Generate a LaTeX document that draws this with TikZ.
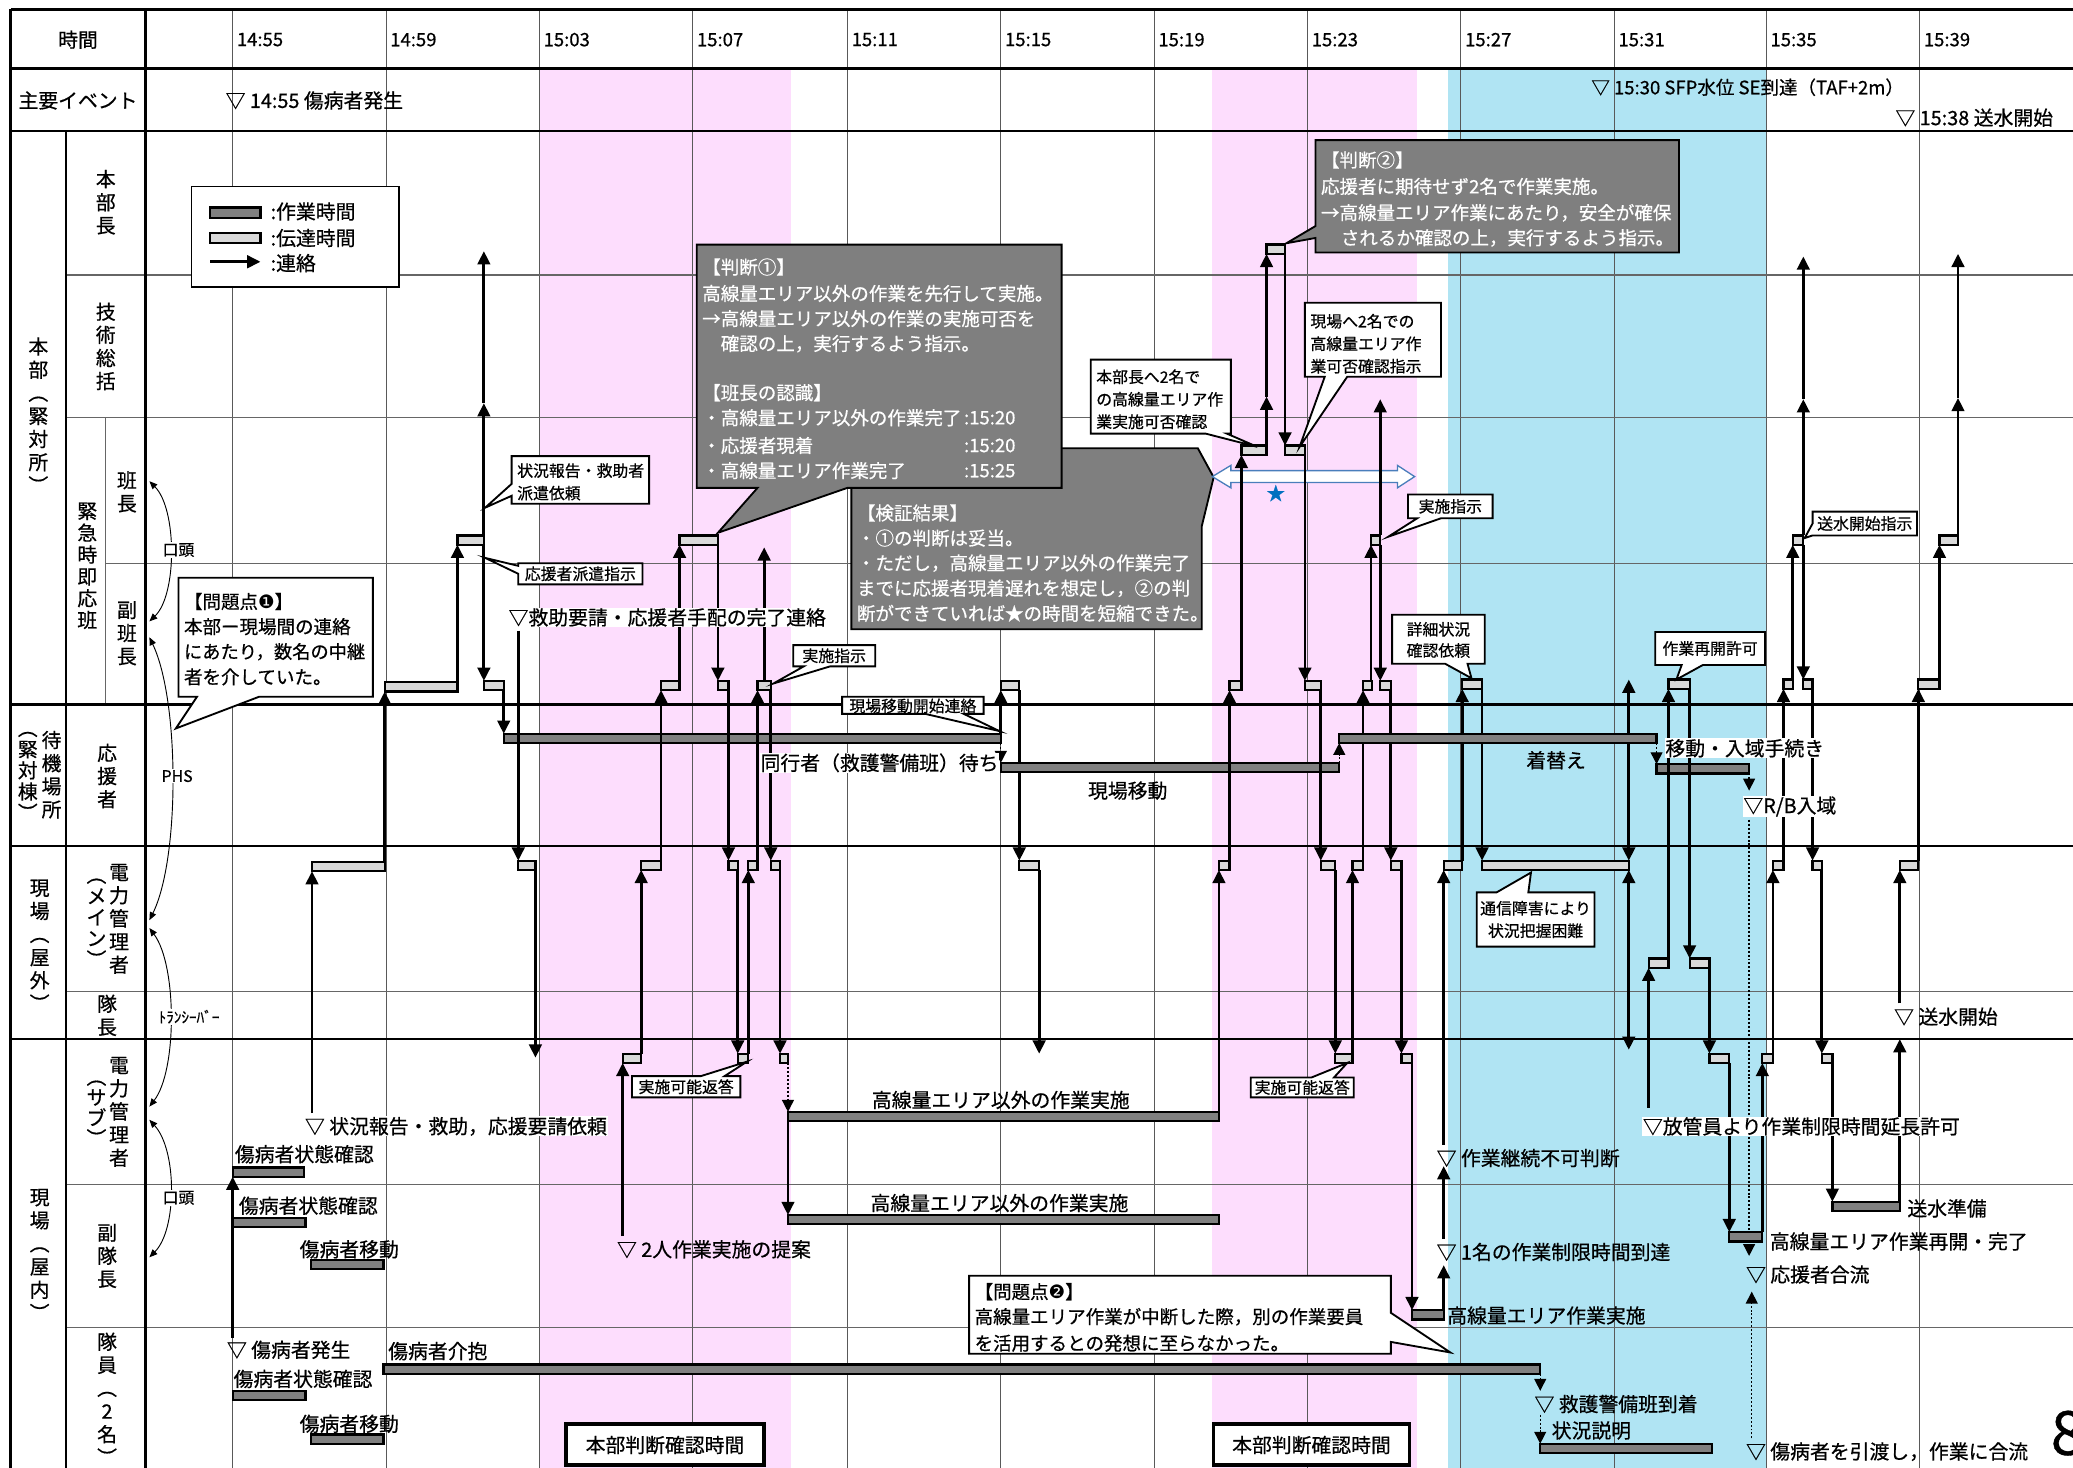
\documentclass[tikz,border=0pt]{standalone}
\usepackage{fontspec}
\setmainfont{Noto Sans CJK JP}[FakeBold=0.6]
\newfontfamily\dvs{DejaVu Sans}
\usetikzlibrary{arrows.meta}
\definecolor{pinkbg}{RGB}{253,221,253}
\definecolor{bluebg}{RGB}{176,228,243}
\definecolor{barg}{RGB}{128,128,128}
\definecolor{lbarg}{RGB}{217,217,217}
\definecolor{callg}{RGB}{127,127,127}
\definecolor{arrblue}{RGB}{74,126,187}
\definecolor{starblue}{RGB}{0,112,192}
\newcommand\zLB[3]{\draw[lbar] (#1,#3) rectangle (#2,#3+7);}
\newcommand\zDB[3]{\draw[dbar] (#1,#3) rectangle (#2,#3+7);}
\newcommand\zAR[3]{\draw[ar] (#1,#2) -- (#1,#3);}
\newcommand\zDA[3]{\draw[dar] (#1,#2) -- (#1,#3);}
\newcommand\zDT[3]{\draw[dotar] (#1,#2) -- (#1,#3);}
\begin{document}
\begin{tikzpicture}[x=1pt,y=-1pt,
  ar/.style={line width=2.1pt,-{Triangle[length=10pt,width=9.5pt]}},
  dar/.style={line width=2.1pt,{Triangle[length=10pt,width=9.5pt]}-{Triangle[length=10pt,width=9.5pt]}},
  dotar/.style={line width=1pt,dash pattern=on 1.5pt off 1.5pt,-{Triangle[length=9pt,width=9pt]}},
  dotln/.style={line width=1pt,dash pattern=on 1.5pt off 1.5pt},
  thinar/.style={line width=0.7pt,{Triangle[length=6pt,width=5pt]}-{Triangle[length=6pt,width=5pt]}},
  dbar/.style={fill=barg,draw=black,line width=1.7pt},
  lbar/.style={fill=lbarg,draw=black,line width=1.7pt},
  gridl/.style={line width=0.7pt,draw=black!65},
  thinrow/.style={line width=0.9pt,draw=black!60},
  thickrow/.style={line width=2pt,draw=black},
  callw/.style={fill=white,draw=black,line width=1.4pt},
  callgr/.style={fill=callg,draw=black,line width=1.4pt},
  mt/.style={font=\fontsize{15}{17}\selectfont,anchor=west,inner sep=0.5pt},
  mtw/.style={mt,fill=white},
  mtc/.style={font=\fontsize{15}{17}\selectfont,inner sep=0.5pt},
  sm/.style={font=\fontsize{12}{14}\selectfont,inner sep=0pt},
  gw/.style={font=\fontsize{14}{16}\selectfont,anchor=west,inner sep=0pt,text=white},
  bk/.style={font=\fontsize{14}{16}\selectfont,anchor=west,inner sep=0pt},
  vl/.style={font=\fontsize{15}{17.5}\selectfont,align=center,inner sep=0pt},
  hd/.style={font=\fontsize{14}{16}\selectfont,anchor=west,inner sep=0pt}]
\useasboundingbox (0,0) rectangle (1568,1110);
\fill[white] (0,0) rectangle (1568,1110);
\clip (0,0) rectangle (1568,1110);
% shading
\fill[pinkbg] (408,52) rectangle (598,1110);
\fill[pinkbg] (917,52) rectangle (1072,1110);
\fill[bluebg] (1095,52) rectangle (1336,1110);
% grid
\foreach \x in {176,292,408,524,641,757,873,989,1105,1221,1336,1452} \draw[gridl] (\x,7) -- (\x,1110);
\foreach \y in {208,316,750,896,1004} \draw[thinrow] (50,\y) -- (1568,\y);
\draw[thinrow] (80,426) -- (1568,426);
\draw[thinrow] (80,316) -- (80,533);
\foreach \y in {7,52,99,533,640,786} \draw[thickrow] (8,\y) -- (1568,\y);
\draw[thickrow] (8,7) -- (8,1110);
\draw[thickrow] (110,7) -- (110,1110);
\draw[thickrow] (50,99) -- (50,1110);
% header
\node[mtc] (hjikan) at (59,30) {時間};
\node[mtc] (hevent) at (59,76) {主要イベント};
\foreach \x/\t in {176/14:55,292/14:59,408/15:03,524/15:07,641/15:11,757/15:15,873/15:19,989/15:23,1105/15:27,1221/15:31,1336/15:35,1452/15:39}
  \node[hd] at (\x+3,30) {\t};
\node[mt] (ev1) at (170,76) {▽ 14:55 傷病者発生};
\node[mt,font=\fontsize{14}{16}\selectfont] (ev2) at (1203,66) {▽ 15:30 SFP水位 SE到達（TAF+2m）};
\node[mt] (ev3) at (1433,89) {▽ 15:38 送水開始};
% left labels
\node[vl] (L1) at (29,314) {本\\部\\︵\\緊\\対\\所\\︶};
\node[vl] (L2) at (80,153) {本\\部\\長};
\node[vl] (L3) at (80,262) {技\\術\\総\\括};
\node[vl,font=\fontsize{15}{16.5}\selectfont] (L4) at (66,428) {緊\\急\\時\\即\\応\\班};
\node[vl] (L5) at (96,372) {班\\長};
\node[vl] (L6) at (96,479) {副\\班\\長};
\node[vl] (L7) at (39,586) {待\\機\\場\\所};
\node[vl,font=\fontsize{15}{16}\selectfont] (L8) at (21,587) {︵\\緊\\対\\棟\\︶};
\node[vl] (L9) at (81,587) {応\\援\\者};
\node[vl] (L10) at (30,715) {現\\場\\︵\\屋\\外\\︶};
\node[vl] (L11) at (90,695) {電\\力\\管\\理\\者};
\node[vl,font=\fontsize{15}{16}\selectfont] (L12) at (73,698) {︵\\メ\\イ\\ン\\︶};
\node[vl] (L13) at (81,768) {隊\\長};
\node[vl] (L14) at (90,841) {電\\力\\管\\理\\者};
\node[vl,font=\fontsize{15}{15.5}\selectfont] (L15) at (73,842) {︵\\サ\\ブ\\︶};
\node[vl] (L16) at (81,950) {副\\隊\\長};
\node[vl] (L17) at (30,949) {現\\場\\︵\\屋\\内\\︶};
\node[vl] (L18) at (81,1058) {隊\\員\\︵\\2\\名\\︶};
% left comm curves
\draw[thinar] (113,364) .. controls (134,385) and (134,450) .. (113,470);
\draw[thinar] (113,482) .. controls (136,530) and (136,650) .. (113,696);
\draw[thinar] (113,702) .. controls (134,730) and (134,810) .. (113,837);
\draw[thinar] (113,847) .. controls (134,870) and (134,930) .. (113,951);
\node[sm,fill=white,inner sep=1pt] (c1) at (135,416) {口頭};
\node[sm,fill=white,inner sep=1pt] (c2) at (134,587) {PHS};
\node[sm,fill=white,inner sep=1pt,font=\fontsize{11.5}{13}\selectfont] (c3) at (143,769) {ﾄﾗﾝｼｰﾊﾞｰ};
\node[sm,fill=white,inner sep=1pt] (c4) at (135,906) {口頭};
% legend
\draw[line width=1.2pt,fill=white] (145,141) rectangle (302,217);
\draw[dbar] (159,157) rectangle (197,165);
\draw[lbar] (159,176) rectangle (197,184);
\draw[ar] (159,198) -- (197,198);
\node[mt] (lg1) at (204,160) {:作業時間};
\node[mt] (lg2) at (204,180) {:伝達時間};
\node[mt] (lg3) at (204,199) {:連絡};
% gray callouts
\draw[callgr] (644,339) -- (906,339) -- (918,361) -- (909,398) -- (909,476) -- (644,476) -- cycle;
\draw[callgr] (527,185) -- (803,185) -- (803,369) -- (641,369) -- (543,403) -- (573,369) -- (527,369) -- cycle;
\draw[callgr] (995,106) -- (1270,106) -- (1270,191) -- (995,191) -- (995,180) -- (973,184) -- (995,171) -- cycle;
\node[gw] at (531,202) {【判断①】};
\node[gw] at (531,222) {高線量エリア以外の作業を先行して実施。};
\node[gw] at (531,241) {→高線量エリア以外の作業の実施可否を};
\node[gw] at (545,260) {確認の上，実行するよう指示。};
\node[gw] at (531,297) {【班長の認識】};
\node[gw] at (531,316) {・高線量エリア以外の作業完了};
\node[gw] at (531,337) {・応援者現着};
\node[gw] at (531,356) {・高線量エリア作業完了};
\node[gw] at (729,316) {:15:20};
\node[gw] at (729,337) {:15:20};
\node[gw] at (729,356) {:15:25};
\node[gw] at (648,388) {【検証結果】};
\node[gw] at (648,407) {・①の判断は妥当。};
\node[gw] at (648,426) {・ただし，高線量エリア以外の作業完了};
\node[gw] at (648,445) {までに応援者現着遅れを想定し，②の判};
\node[gw] at (648,464) {断ができていれば★の時間を短縮できた。};
\node[gw] at (999,121) {【判断②】};
\node[gw] at (999,141) {応援者に期待せず2名で作業実施。};
\node[gw] at (999,161) {→高線量エリア作業にあたり，安全が確保};
\node[gw] at (1014,180) {されるか確認の上，実行するよう指示。};
% blue double arrow and star
\draw[arrblue,fill=white,line width=1pt] (917,360.5) -- (931,352) -- (931,356) -- (1057,356) -- (1057,352) -- (1070,360.5) -- (1057,369) -- (1057,365) -- (931,365) -- (931,369) -- cycle;
\node[text=starblue,font=\fontsize{14}{16}\selectfont,inner sep=0pt] (star) at (965,373) {★};
% initial phase
\zDB{176}{230}{883}
\zDB{176}{231}{921}
\zDB{235}{290}{953}
\zDB{176}{231}{1052}
\zDB{235}{290}{1085}
\zDB{290}{1165}{1032}
\zAR{176}{1012}{890}
\zAR{236}{842}{659}
\zLB{236}{291}{652}
\zAR{291}{652}{523}
\zLB{291}{346}{516}
\zAR{346}{516}{412}
\zLB{346}{366}{405}
\zAR{366}{405}{305}
\zAR{366}{305}{190}
\zAR{366}{412}{515}
\zLB{366}{381}{515}
\zAR{381}{522}{555}
\zDB{381}{757}{555}
\zAR{392}{477}{651}
\zLB{392}{405}{651}
\zAR{405}{658}{800}
% pink 1
\zAR{471}{935}{804}
\zLB{471}{485}{797}
\zAR{485}{797}{658}
\zLB{485}{500}{651}
\zAR{500}{651}{522}
\zLB{500}{514}{515}
\zAR{514}{515}{412}
\zLB{514}{543}{405}
\zAR{543}{412}{515}
\zLB{543}{551}{515}
\zAR{551}{522}{651}
\zLB{551}{558}{651}
\zAR{558}{658}{797}
\zLB{558}{566}{797}
\zAR{566}{797}{658}
\zLB{566}{573}{651}
\zAR{573}{651}{522}
\zLB{573}{583}{515}
\zAR{578}{515}{414}
\zAR{583}{522}{651}
\zLB{583}{590}{651}
\zAR{590}{658}{797}
\zLB{590}{596}{797}
\zDT{596}{804}{841}
\zDB{596}{922}{841}
\zAR{596}{848}{919}
\zDB{596}{922}{919}
\zAR{757}{555}{522}
\zLB{757}{771}{515}
\zAR{771}{522}{651}
\zLB{771}{786}{651}
\zAR{786}{658}{797}
\zDT{757}{562}{577}
\zDB{757}{1013}{577}
% pink 2
\zAR{922}{841}{658}
\zLB{922}{930}{651}
\zAR{930}{651}{522}
\zLB{930}{939}{515}
\zAR{939}{515}{344}
\zLB{939}{958}{337}
\zAR{958}{337}{300}
\zAR{958}{300}{192}
\zLB{958}{972}{185}
\zAR{972}{192}{337}
\zLB{972}{987}{337}
\zAR{987}{344}{515}
\zLB{987}{999}{515}
\zAR{999}{522}{651}
\zLB{999}{1010}{651}
\zAR{1010}{658}{797}
\zLB{1010}{1023}{797}
\zAR{1023}{797}{658}
\zLB{1023}{1031}{651}
\zAR{1031}{651}{522}
\zLB{1031}{1038}{515}
\zAR{1037}{515}{412}
\zLB{1037}{1044}{405}
\zAR{1044}{405}{302}
\zAR{1044}{412}{515}
\zLB{1044}{1052}{515}
\zAR{1052}{522}{651}
\zLB{1052}{1060}{651}
\zAR{1060}{658}{797}
\zLB{1060}{1068}{797}
\zAR{1068}{804}{991}
\zDB{1068}{1092}{991}
\zAR{1092}{991}{957}
\zAR{1092}{937}{882}
\zAR{1092}{866}{658}
\zLB{1092}{1106}{651}
\zAR{1106}{651}{521}
\zLB{1106}{1121}{514}
\zAR{1121}{521}{651}
\zLB{1121}{1232}{651}
\zDA{1232}{514}{651}
\zDA{1232}{658}{794}
\zDT{1013}{577}{562}
\zDB{1013}{1253}{555}
\zDT{1253}{562}{578}
\zDB{1253}{1323}{578}
\zDT{1323}{585}{598}
\draw[dotln] (1323,620) -- (1323,932);
\zDT{1323}{939}{950}
\zDT{1325}{1088}{977}
% blue
\zAR{1247}{838}{732}
\zLB{1247}{1262}{725}
\zAR{1262}{725}{521}
\zLB{1262}{1278}{514}
\zAR{1278}{521}{725}
\zLB{1278}{1293}{725}
\zAR{1293}{732}{797}
\zLB{1293}{1308}{797}
\zAR{1308}{804}{932}
\zDB{1308}{1333}{932}
\zAR{1333}{932}{804}
\zLB{1333}{1341}{797}
\zAR{1341}{797}{658}
\zLB{1341}{1349}{651}
\zAR{1349}{651}{521}
\zLB{1349}{1356}{514}
\zAR{1356}{514}{412}
\zLB{1356}{1364}{405}
\zAR{1364}{405}{302}
\zAR{1364}{302}{194}
\zAR{1364}{412}{514}
\zLB{1364}{1371}{514}
\zAR{1371}{521}{651}
\zLB{1371}{1378}{651}
\zAR{1378}{658}{797}
\zLB{1378}{1386}{797}
\zAR{1386}{804}{909}
\zDB{1386}{1437}{909}
\zAR{1437}{909}{786}
\zAR{1437}{759}{658}
\zLB{1437}{1451}{651}
\zAR{1451}{651}{521}
\zLB{1451}{1467}{514}
\zAR{1467}{514}{412}
\zLB{1467}{1481}{405}
\zAR{1481}{405}{301}
\zAR{1481}{301}{192}
% bottom right
\zDT{1165}{1039}{1052}
\zDT{1165}{1070}{1092}
\zDB{1165}{1295}{1092}
% white callouts
\draw[callw] (387,345) -- (491,345) -- (491,381) -- (387,381) -- (387,375) -- (367,384) -- (387,366) -- cycle;
\node[sm,anchor=west] at (391,356) {状況報告・救助者};
\node[sm,anchor=west] at (391,373) {派遣依頼};
\draw[callw] (392,426) -- (486,426) -- (486,442) -- (392,442) -- (392,434) -- (367,422) -- (392,428) -- cycle;
\node[sm] at (439,434) {応援者派遣指示};
\draw[callw] (600,488) -- (662,488) -- (662,504) -- (628,504) -- (585,517) -- (608,504) -- (600,504) -- cycle;
\node[sm] at (631,496) {実施指示};
\draw[callw] (637,527) -- (744,527) -- (744,540) -- (729,540) -- (756,553) -- (700,540) -- (637,540) -- cycle;
\node[sm] at (690.5,534) {現場移動開始連絡};
\draw[callw] (478,814) -- (530,814) -- (565,803) -- (548,814) -- (560,814) -- (560,830) -- (478,830) -- cycle;
\node[sm] at (519,822) {実施可能返答};
\draw[callw] (825,272) -- (931,272) -- (931,328) -- (928,328) -- (951,338) -- (912,328) -- (825,328) -- cycle;
\node[sm,anchor=west] at (829,285) {本部長へ2名で};
\node[sm,anchor=west] at (829,302) {の高線量エリア作};
\node[sm,anchor=west] at (829,319) {業実施可否確認};
\draw[callw] (987,229) -- (1090,229) -- (1090,285) -- (1019,285) -- (983,338) -- (1002,285) -- (987,285) -- cycle;
\node[sm,anchor=west] at (991,243) {現場へ2名での};
\node[sm,anchor=west] at (991,260) {高線量エリア作};
\node[sm,anchor=west] at (991,277) {業可否確認指示};
\draw[callw] (1065,374) -- (1129,374) -- (1129,392) -- (1090,392) -- (1050,406) -- (1072,392) -- (1065,392) -- cycle;
\node[sm] at (1097,383) {実施指示};
\draw[callw] (1053,465) -- (1123,465) -- (1123,502) -- (1110,502) -- (1113,513) -- (1093,502) -- (1053,502) -- cycle;
\node[sm] at (1088,476) {詳細状況};
\node[sm] at (1088,492) {確認依頼};
\draw[callw] (946,815) -- (992,815) -- (1019,804) -- (1009,815) -- (1024,815) -- (1024,830) -- (946,830) -- cycle;
\node[sm] at (985,822.5) {実施可能返答};
\draw[callw] (1117,675) -- (1132,675) -- (1158,660) -- (1156,675) -- (1206,675) -- (1206,716) -- (1117,716) -- cycle;
\node[sm] at (1161.5,687) {通信障害により};
\node[sm] at (1161.5,704) {状況把握困難};
\draw[callw] (1252,478) -- (1335,478) -- (1335,503) -- (1288,503) -- (1268,514) -- (1272,503) -- (1252,503) -- cycle;
\node[sm] at (1293.5,490.5) {作業再開許可};
\draw[callw] (1371,387) -- (1450,387) -- (1450,405) -- (1371,405) -- (1365,407) -- (1371,396) -- cycle;
\node[sm] at (1410.5,396) {送水開始指示};
% problem callouts
\draw[callw] (135,437) -- (282,437) -- (282,527) -- (196,527) -- (133,551) -- (149,527) -- (135,527) -- cycle;
\node[bk] at (139,455) {【問題点{\dvs ❶}】};
\node[bk] at (139,474) {本部ー現場間の連絡};
\node[bk,font=\fontsize{13.8}{16}\selectfont] at (139,493) {にあたり，数名の中継};
\node[bk] at (139,512) {者を介していた。};
\draw[callw] (733,965) -- (1052,965) -- (1052,993) -- (1097,1023) -- (1052,1015) -- (1052,1024) -- (733,1024) -- cycle;
\node[bk] at (737,977) {【問題点{\dvs ❷}】};
\node[bk] at (737,996) {高線量エリア作業が中断した際，別の作業要員};
\node[bk] at (737,1016) {を活用するとの発想に至らなかった。};
% bottom boxes
\draw[line width=2.6pt,fill=white] (428,1077) rectangle (578,1108);
\node[mtc] (bx1) at (503,1093) {本部判断確認時間};
\draw[line width=2.6pt,fill=white] (918,1077) rectangle (1066,1108);
\node[mtc] (bx2) at (992,1093) {本部判断確認時間};
% main labels
\node[mtw] at (230,852) {▽ 状況報告・救助，応援要請依頼};
\node[mt] at (177,873) {傷病者状態確認};
\node[mt] at (180,912) {傷病者状態確認};
\node[mt] at (226,945) {傷病者移動};
\node[mt] at (171,1021) {▽ 傷病者発生};
\node[mt] at (176,1043) {傷病者状態確認};
\node[mt] at (226,1077) {傷病者移動};
\node[mt] at (293,1022) {傷病者介抱};
\node[mtw] at (384,467) {▽救助要請・応援者手配の完了連絡};
\node[mt] at (466,945) {▽ 2人作業実施の提案};
\node[mtc] at (757,832) {高線量エリア以外の作業実施};
\node[mtc] at (756,910) {高線量エリア以外の作業実施};
\node[mtw,anchor=east] at (756,577) {同行者（救護警備班）待ち};
\node[mtc] at (853,598) {現場移動};
\node[mtc] at (1177,575) {着替え};
\node[mtw] at (1259,566) {移動・入域手続き};
\node[mtw] at (1318,610) {▽R/B入域};
\node[mt] at (1094,995) {高線量エリア作業実施};
\node[mt] at (1086,947) {▽ 1名の作業制限時間到達};
\node[mt] at (1086,876) {▽ 作業継続不可判断};
\node[mtw] at (1242,852) {▽放管員より作業制限時間延長許可};
\node[mt] at (1338,939) {高線量エリア作業再開・完了};
\node[mt] at (1320,964) {▽ 応援者合流};
\node[mt] at (1160,1062) {▽ 救護警備班到着};
\node[mt] at (1173,1082) {状況説明};
\node[mt] at (1320,1098) {▽ 傷病者を引渡し，作業に合流};
\node[mt] at (1442,914) {送水準備};
\node[mt] at (1432,769) {▽ 送水開始};
\node[anchor=west,font=\fontsize{46}{46}\selectfont,inner sep=0pt] (pg) at (1551,1084) {8};
\end{tikzpicture}
\end{document}
